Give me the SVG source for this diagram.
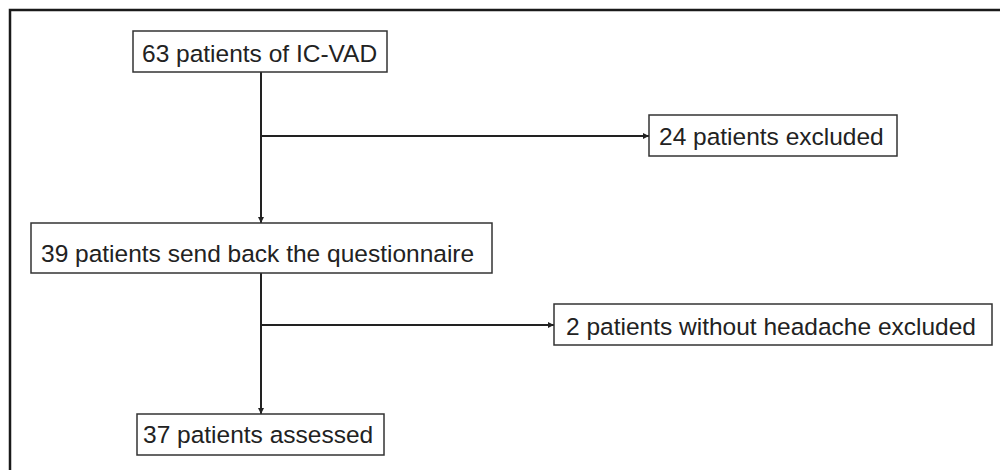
<svg xmlns="http://www.w3.org/2000/svg" width="1000" height="470" viewBox="0 0 1000 470">
<defs>
<style>
.box{fill:#fff;stroke:#333;stroke-width:1.5}
.t{font-family:"Liberation Sans",Arial,sans-serif;font-size:24.5px;fill:#222}
.c{stroke:#222;stroke-width:2;fill:none}
.frame{stroke:#1a1a1a;stroke-width:2.5;fill:none}
</style>
<marker id="ah" viewBox="0 0 10 10" refX="10" refY="5" markerWidth="6" markerHeight="6" orient="auto" markerUnits="userSpaceOnUse">
<path d="M0,0 L10,5 L0,10 z" fill="#222"/>
</marker>
</defs>
<rect width="1000" height="470" fill="#fff"/>
<path class="frame" d="M10,480 L10,10 L1010,10"/>
<g id="connectors">
<line class="c" x1="261" y1="72" x2="261" y2="223" marker-end="url(#ah)"/>
<line class="c" x1="261" y1="136" x2="649" y2="136" marker-end="url(#ah)"/>
<line class="c" x1="261" y1="273" x2="261" y2="414" marker-end="url(#ah)"/>
<line class="c" x1="261" y1="325" x2="554" y2="325" marker-end="url(#ah)"/>
</g>
<g id="n1"><rect class="box" x="133" y="31" width="254" height="41"/><text class="t" x="142" y="62">63 patients of IC-VAD</text></g>
<g id="n2"><rect class="box" x="649" y="115" width="248" height="41"/><text class="t" x="659" y="145">24 patients excluded</text></g>
<g id="n3"><rect class="box" x="31" y="223" width="461" height="50"/><text class="t" x="41" y="262">39 patients send back the questionnaire</text></g>
<g id="n4"><rect class="box" x="554" y="304" width="438" height="41"/><text class="t" x="566" y="335">2 patients without headache excluded</text></g>
<g id="n5"><rect class="box" x="137" y="414" width="247" height="41"/><text class="t" x="143" y="443">37 patients assessed</text></g>
</svg>
